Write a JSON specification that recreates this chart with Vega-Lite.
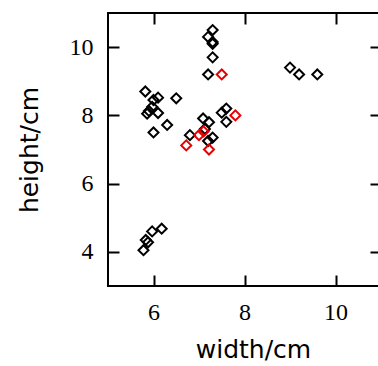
{
  "$schema": "https://vega.github.io/schema/vega-lite/v6.json",
  "autosize": "none",
  "padding": {"left": 108, "top": 13, "right": 0, "bottom": 80},
  "width": 273,
  "height": 273,
  "config": {
    "view": {"stroke": "#000", "strokeWidth": 2},
    "axis": {
      "domain": false,
      "grid": false,
      "tickColor": "#000",
      "tickWidth": 2,
      "tickSize": 11,
      "offset": -11,
      "labelFont": "Liberation Serif",
      "labelFontSize": 24,
      "labelColor": "#000",
      "titleFont": "DejaVu Sans",
      "titleFontSize": 25,
      "titleFontWeight": "normal",
      "titleColor": "#000"
    }
  },
  "data": {
    "values": [
      {"w": 7.3, "h": 10.5, "g": "a"},
      {"w": 7.2, "h": 10.3, "g": "a"},
      {"w": 7.3, "h": 10.15, "g": "a"},
      {"w": 7.3, "h": 10.1, "g": "a"},
      {"w": 7.3, "h": 9.7, "g": "a"},
      {"w": 7.2, "h": 9.2, "g": "a"},
      {"w": 9.0, "h": 9.4, "g": "a"},
      {"w": 9.2, "h": 9.2, "g": "a"},
      {"w": 9.6, "h": 9.2, "g": "a"},
      {"w": 5.82, "h": 8.7, "g": "a"},
      {"w": 6.1, "h": 8.52, "g": "a"},
      {"w": 6.0, "h": 8.45, "g": "a"},
      {"w": 6.5, "h": 8.5, "g": "a"},
      {"w": 5.97, "h": 8.25, "g": "a"},
      {"w": 5.9, "h": 8.13, "g": "a"},
      {"w": 5.86, "h": 8.05, "g": "a"},
      {"w": 6.1, "h": 8.07, "g": "a"},
      {"w": 6.3, "h": 7.72, "g": "a"},
      {"w": 6.0, "h": 7.5, "g": "a"},
      {"w": 7.09, "h": 7.91, "g": "a"},
      {"w": 7.22, "h": 7.8, "g": "a"},
      {"w": 7.5, "h": 8.08, "g": "a"},
      {"w": 7.6, "h": 8.2, "g": "a"},
      {"w": 7.6, "h": 7.81, "g": "a"},
      {"w": 7.13, "h": 7.6, "g": "a"},
      {"w": 6.8, "h": 7.42, "g": "a"},
      {"w": 7.3, "h": 7.35, "g": "a"},
      {"w": 7.2, "h": 7.25, "g": "a"},
      {"w": 6.18, "h": 4.68, "g": "a"},
      {"w": 5.97, "h": 4.6, "g": "a"},
      {"w": 5.83, "h": 4.35, "g": "a"},
      {"w": 5.88, "h": 4.28, "g": "a"},
      {"w": 5.78, "h": 4.05, "g": "a"},
      {"w": 7.5, "h": 9.2, "g": "b"},
      {"w": 7.8, "h": 8.0, "g": "b"},
      {"w": 7.1, "h": 7.53, "g": "b"},
      {"w": 7.0, "h": 7.42, "g": "b"},
      {"w": 6.72, "h": 7.12, "g": "b"},
      {"w": 7.22, "h": 7.0, "g": "b"}
    ]
  },
  "layer": [
    {
      "mark": {"type": "point", "shape": "diamond", "filled": false, "strokeWidth": 2, "size": 100, "opacity": 1},
      "encoding": {
        "x": {"field": "w", "type": "quantitative", "scale": {"domain": [5, 11], "nice": false, "zero": false},
              "axis": {"values": [6, 8, 10], "title": "width/cm", "labelPadding": 14, "titleBaseline": "alphabetic", "titleY": 82, "titleX": 145}},
        "y": {"field": "h", "type": "quantitative", "scale": {"domain": [3, 11], "nice": false, "zero": false},
              "axis": {"values": [4, 6, 8, 10], "title": "height/cm", "labelPadding": 15, "titleX": -90, "titleY": 136.5, "titleBaseline": "middle", "titleAngle": -90}},
        "color": {"field": "g", "type": "nominal", "scale": {"domain": ["a", "b"], "range": ["#000000", "#e60000"]}, "legend": null}
      }
    },
    {
      "mark": {"type": "point", "opacity": 0},
      "encoding": {
        "x": {"field": "w", "type": "quantitative", "axis": {"orient": "top", "values": [6, 8, 10], "labels": false, "title": null}},
        "y": {"field": "h", "type": "quantitative", "axis": {"orient": "right", "values": [4, 6, 8, 10], "labels": false, "title": null}}
      }
    }
  ],
  "resolve": {"axis": {"x": "independent", "y": "independent"}}
}
